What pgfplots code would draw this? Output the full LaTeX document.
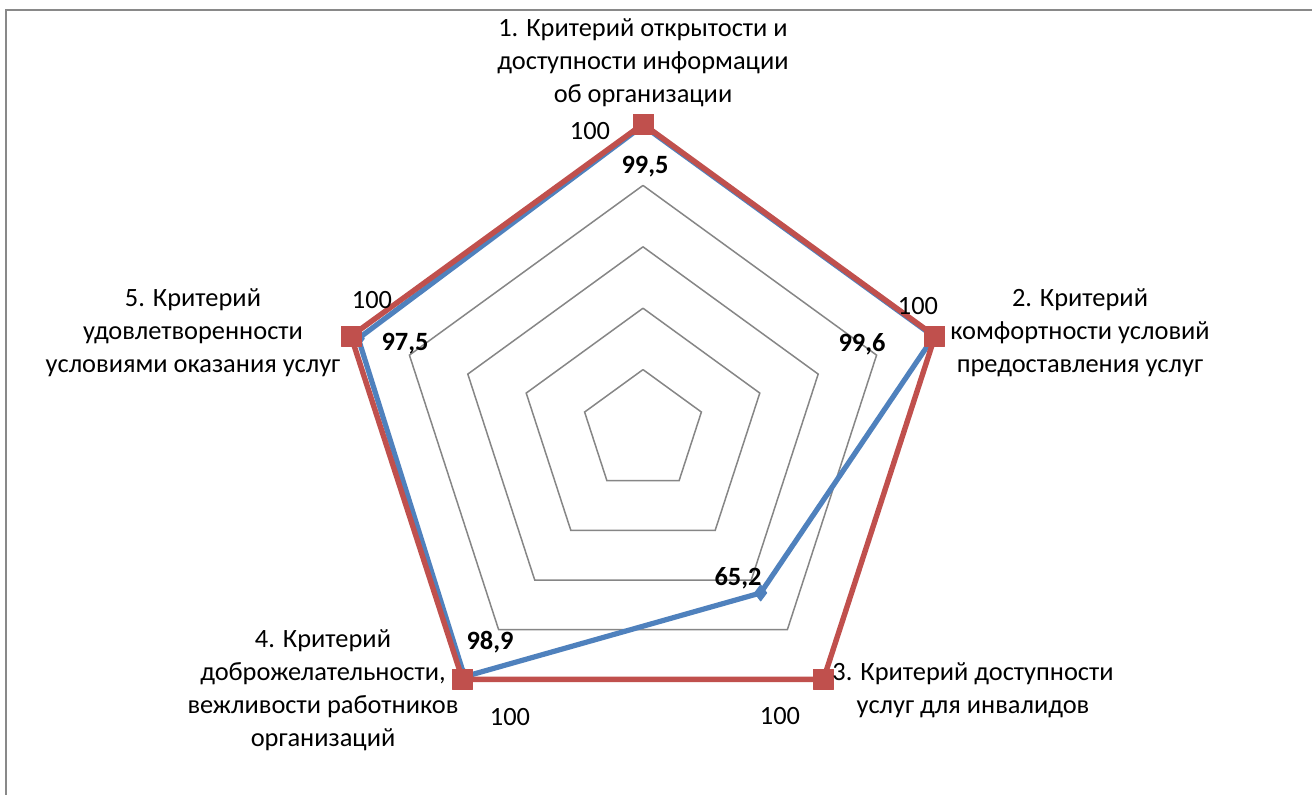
\documentclass[border=0pt]{standalone}
\usepackage{pgfplots}
\pgfplotsset{compat=1.18}
\usepgfplotslibrary{polar}
\usepackage{fontspec}
\setmainfont{Carlito}
\definecolor{serBlue}{RGB}{79,129,189}
\definecolor{serRed}{RGB}{192,80,77}
\definecolor{ringGrey}{RGB}{134,134,134}
\definecolor{frameGrey}{RGB}{137,137,137}
\begin{document}
\begin{tikzpicture}[font=\fontsize{13.2}{16.5}\selectfont]
  % picture area in px of the reference (1px = 0.5pt)
  \begin{scope}[x=0.5pt,y=-0.5pt]
    \useasboundingbox (0,0) rectangle (1312,794);
    \fill[white] (0,0) rectangle (1312,794);
    \draw[frameGrey, line width=1.2pt] (6,800) -- (6,10) -- (1320,10);
  \end{scope}
  \begin{polaraxis}[
      at={(321.5pt,-215.5pt)}, anchor=origin,
      width=307pt, height=307pt, scale only axis,
      hide axis, clip=false,
      xmin=0, xmax=360, ymin=0, ymax=100,
    ]
    % pentagon rings
    \foreach \r in {20,40,60,80,100} {
      \edef\ring{\noexpand\addplot[ringGrey, line width=0.75pt, mark=none, forget plot]
        coordinates {(90,\r) (18,\r) (306,\r) (234,\r) (162,\r) (90,\r)};}
      \ring
    }
    % series 1
    \addplot[serBlue, line width=2.6pt, line join=round,
      mark=diamond*, mark size=4pt, mark options={solid, fill=serBlue, line width=0.5pt}]
      coordinates {(90,99.5) (18,99.6) (306,65.2) (234,98.9) (162,97.5) (90,99.5)};
    % series 2
    \addplot[serRed, line width=2.7pt, line join=round,
      mark=square*, mark size=5pt, mark options={solid, fill=serRed, line width=0.5pt}]
      coordinates {(90,100) (18,100) (306,100) (234,100) (162,100) (90,100)};
  \end{polaraxis}
  \begin{scope}[x=0.5pt,y=-0.5pt]
    % data labels
    \node at (590,131) {100};
    \node at (918,306) {100};
    \node at (780,716) {100};
    \node at (510,717) {100};
    \node at (372,300) {100};
    \node[font=\fontsize{13.2}{16.5}\selectfont\bfseries] at (645,167) {99,5};
    \node[font=\fontsize{13.2}{16.5}\selectfont\bfseries] at (862,344) {99,6};
    \node[font=\fontsize{13.2}{16.5}\selectfont\bfseries] at (738,578) {65,2};
    \node[font=\fontsize{13.2}{16.5}\selectfont\bfseries] at (490,642) {98,9};
    \node[font=\fontsize{13.2}{16.5}\selectfont\bfseries] at (405,344) {97,5};
    % category labels
    \node[align=center] at (643,63) {1. Критерий открытости и\\доступности информации\\об организации};
    \node[align=center] at (1080,333) {2. Критерий\\комфортности условий\\предоставления услуг};
    \node[align=center] at (973,690) {3. Критерий доступности\\услуг для инвалидов};
    \node[align=center] at (323,690) {4. Критерий\\доброжелательности,\\вежливости работников\\организаций};
    \node[align=center] at (193,333) {5. Критерий\\удовлетворенности\\условиями оказания услуг};
  \end{scope}
\end{tikzpicture}
\end{document}
